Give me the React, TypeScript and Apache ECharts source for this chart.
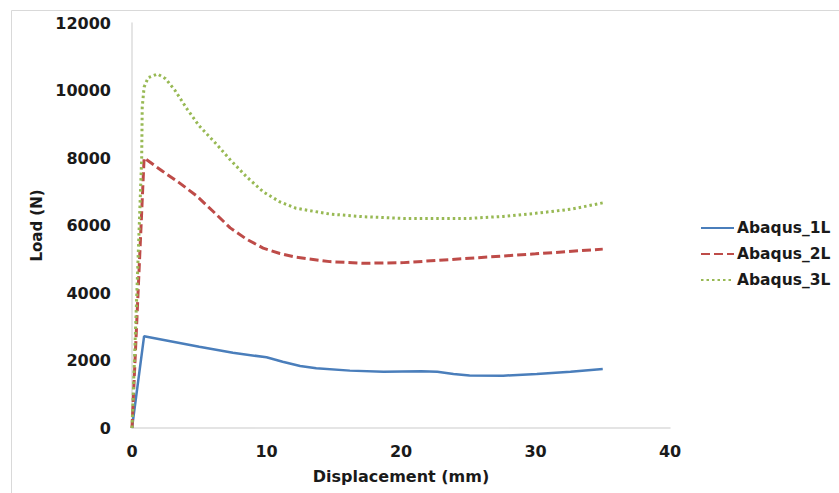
import React, { useEffect, useRef } from "react";
import * as echarts from "echarts";

// Abaqus_1L
const disp1 = [0, 0.9, 5, 7.5, 10, 11.2, 12.5, 13.7, 16.2, 18.7, 21.5, 22.7, 23.9, 25.1, 27.6, 30.1, 32.6, 35];
const load1 = [0, 2720, 2410, 2230, 2094, 1965, 1837, 1768, 1700, 1670, 1680, 1665, 1600, 1555, 1550, 1600, 1670, 1750];

// Abaqus_2L
const disp2 = [0, 0.9, 2.3, 3.5, 4.8, 6, 7.3, 8.5, 9.75, 11, 12.2, 14.7, 17.2, 20.2, 25.1, 30, 35];
const load2 = [0, 8000, 7600, 7270, 6880, 6430, 5930, 5600, 5330, 5170, 5060, 4930, 4880, 4900, 5030, 5160, 5300];

// Abaqus_3L
const disp3 = [0, 0.72, 0.76, 0.9, 1.2, 1.9, 2.5, 3.2, 4.1, 5, 6.3, 7.3, 8.5, 9.75, 11, 12.2, 14.7, 17.2, 20.2, 25.1, 27.6, 30, 32.6, 35];
const load3 = [0, 8000, 9500, 10100, 10380, 10490, 10350, 10000, 9450, 8950, 8400, 7950, 7450, 7000, 6700, 6510, 6340, 6260, 6210, 6210, 6270, 6360, 6480, 6670];

const seriesNames = ["Abaqus_1L", "Abaqus_2L", "Abaqus_3L"];
const xTicks = { min: 0, max: 40, interval: 10 };
const yTicks = { min: 0, max: 12000, interval: 2000 };

const pairs = (xs: number[], ys: number[]) => xs.map((x, i) => [x, ys[i]]);

export default function App() {
  const ref = useRef<HTMLDivElement>(null);
  useEffect(() => {
    if (!ref.current) return;
    const chart = echarts.init(ref.current, undefined, { renderer: "svg" });
    const font = "DejaVu Sans";
    chart.setOption({
      animation: false,
      backgroundColor: "#ffffff",
      textStyle: { fontFamily: font },
      graphic: [
        {
          type: "rect",
          left: 9,
          top: 8,
          shape: { width: 900, height: 600 },
          style: { fill: "none", stroke: "#d9d9d9", lineWidth: 1 },
          silent: true,
        },
      ],
      grid: { left: 132, right: 169, top: 23, bottom: 65 },
      xAxis: {
        type: "value",
        min: xTicks.min,
        max: xTicks.max,
        interval: xTicks.interval,
        name: "Displacement (mm)",
        nameLocation: "middle",
        nameGap: 40,
        nameTextStyle: { fontFamily: font, fontWeight: "bold", fontSize: 16, color: "#1a1a1a" },
        axisLine: { show: true, lineStyle: { color: "#dcdcdc", width: 1.5 } },
        axisTick: { show: false },
        splitLine: { show: false },
        axisLabel: { margin: 15, fontFamily: font, fontWeight: "bold", fontSize: 16, color: "#1a1a1a" },
      },
      yAxis: {
        type: "value",
        min: yTicks.min,
        max: yTicks.max,
        interval: yTicks.interval,
        name: "Load (N)",
        nameLocation: "middle",
        nameGap: 83,
        nameTextStyle: { fontFamily: font, fontWeight: "bold", fontSize: 15, color: "#1a1a1a" },
        axisLine: { show: true, lineStyle: { color: "#dcdcdc", width: 1.5 } },
        axisTick: { show: false },
        splitLine: { show: false },
        axisLabel: {
          margin: 21,
          fontFamily: font,
          fontWeight: "bold",
          fontSize: 16,
          color: "#1a1a1a",
          formatter: (v: number) => String(v),
        },
      },
      legend: {
        orient: "vertical",
        left: 700,
        top: 220,
        padding: 0,
        itemWidth: 33,
        itemHeight: 14,
        itemGap: 10,
        itemStyle: { opacity: 0 },
        textStyle: { fontFamily: font, fontWeight: "bold", fontSize: 15.5, color: "#1a1a1a", padding: [0, 0, 0, -2] },
        data: seriesNames,
      },
      series: [
        {
          name: seriesNames[0],
          type: "line",
          data: pairs(disp1, load1),
          showSymbol: false,
          symbol: "none",
          lineStyle: { color: "#4a7ebb", width: 2.5 },
          itemStyle: { color: "#4a7ebb" },
        },
        {
          name: seriesNames[1],
          type: "line",
          data: pairs(disp2, load2),
          showSymbol: false,
          symbol: "none",
          lineStyle: { color: "#be4b48", width: 3, type: [9, 4] },
          itemStyle: { color: "#be4b48" },
        },
        {
          name: seriesNames[2],
          type: "line",
          data: pairs(disp3, load3),
          showSymbol: false,
          symbol: "none",
          lineStyle: { color: "#98b954", width: 3, type: [2.5, 3], cap: "butt" },
          itemStyle: { color: "#98b954" },
        },
      ],
    });
    return () => chart.dispose();
  }, []);
  return <div ref={ref} style={{ width: 839, height: 493, position: "absolute", left: 0, top: 0 }} />;
}
